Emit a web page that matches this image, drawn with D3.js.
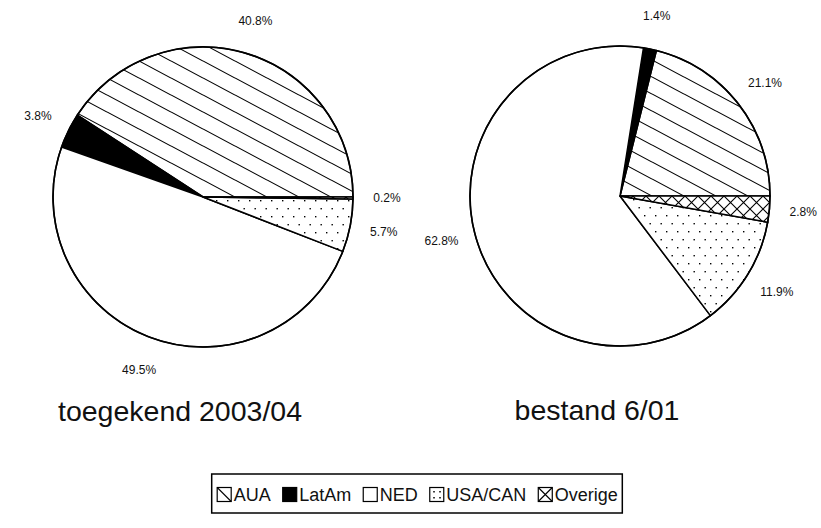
<!DOCTYPE html>
<html>
<head>
<meta charset="utf-8">
<script src="https://cdn.jsdelivr.net/npm/d3@7"></script>
<style>
  html, body { margin: 0; padding: 0; background: #fff; }
  svg { display: block; font-family: "Liberation Sans", Arial, Helvetica, sans-serif; }
</style>
</head>
<body>
<svg id="chart" width="821" height="528"></svg>
<script>
// ---- data ----
const categories = ["AUA", "LatAm", "NED", "USA/CAN", "Overige"];
const toegekendValues = [40.8, 3.8, 49.5, 5.7, 0.2];   // toegekend 2003/04
const bestandValues   = [21.1, 1.4, 62.8, 11.9, 2.8];  // bestand 6/01
const chartTitles = ["toegekend 2003/04", "bestand 6/01"];

// ---- setup ----
const svg = d3.select("#chart");
const defs = svg.append("defs");

// hatch "\" pattern (AUA)
const ph = defs.append("pattern").attr("id", "p-hatch").attr("patternUnits", "userSpaceOnUse")
  .attr("width", 32).attr("height", 17);
ph.append("rect").attr("width", 32).attr("height", 17).attr("fill", "#fff");
ph.append("path").attr("d", "M-32,-17L64,34M-32,0L32,34M0,-17L64,17")
  .attr("stroke", "#000").attr("stroke-width", 1.1).attr("fill", "none");

// dotted pattern (USA/CAN)
const pd = defs.append("pattern").attr("id", "p-dots").attr("patternUnits", "userSpaceOnUse")
  .attr("width", 11).attr("height", 16);
pd.append("rect").attr("width", 11).attr("height", 16).attr("fill", "#fff");
pd.append("rect").attr("x", 2).attr("y", 3).attr("width", 1.4).attr("height", 1.4).attr("fill", "#000");
pd.append("rect").attr("x", 7.5).attr("y", 11).attr("width", 1.4).attr("height", 1.4).attr("fill", "#000");

// crosshatch pattern (Overige)
const pc = defs.append("pattern").attr("id", "p-cross").attr("patternUnits", "userSpaceOnUse")
  .attr("width", 13).attr("height", 13);
pc.append("rect").attr("width", 13).attr("height", 13).attr("fill", "#fff");
pc.append("path").attr("d", "M0,0L13,13M13,0L0,13M-1,1L1,-1M12,14L14,12")
  .attr("stroke", "#000").attr("stroke-width", 1.1).attr("fill", "none");

const fills = d3.scaleOrdinal()
  .domain(categories)
  .range(["url(#p-hatch)", "#000", "#fff", "url(#p-dots)", "url(#p-cross)"]);

const pie = d3.pie().sort(null).value(d => d)
  .startAngle(Math.PI / 2).endAngle(Math.PI / 2 - 2 * Math.PI);

const R = 150;
const arc = d3.arc().innerRadius(0).outerRadius(R);
const labelArc = d3.arc().innerRadius(184).outerRadius(184);

const fmt = v => d3.format(".1f")(v) + "%";

function drawPie(values, cx, cy, title) {
  const g = svg.append("g").attr("transform", `translate(${cx},${cy})`);
  const arcs = pie(values).map((a, i) => Object.assign(a, { cat: categories[i] }));
  g.selectAll("path.slice").data(arcs).join("path")
    .attr("class", "slice")
    .attr("d", arc)
    .attr("fill", d => fills(d.cat))
    .attr("stroke", "#000")
    .attr("stroke-width", 1.5)
    .attr("stroke-linejoin", "round");
  g.append("circle").attr("r", R).attr("fill", "none").attr("stroke", "#000").attr("stroke-width", 1.6);
  g.selectAll("text.lbl").data(arcs).join("text")
    .attr("class", "lbl")
    .attr("transform", d => `translate(${labelArc.centroid(d)})`)
    .attr("text-anchor", "middle")
    .attr("dy", "0.35em")
    .attr("font-size", 12)
    .attr("fill", "#111")
    .text(d => fmt(d.data));
  g.append("text")
    .attr("x", -23).attr("y", 224)
    .attr("text-anchor", "middle")
    .attr("font-size", 28.5)
    .attr("fill", "#111")
    .text(title);
}

drawPie(toegekendValues, 203, 197, chartTitles[0]);
drawPie(bestandValues, 620, 196, chartTitles[1]);

// ---- legend ----
const lg = svg.append("g");
const items = lg.selectAll("g.item").data(categories).join("g").attr("class", "item");
const S = 14;
items.each(function (c, i) {
  const it = d3.select(this);
  const sw = it.append("g");
  sw.append("rect").attr("x", 0.5).attr("y", -S + 0.5).attr("width", S).attr("height", S)
    .attr("fill", c === "LatAm" ? "#000" : "#fff").attr("stroke", "#000").attr("stroke-width", 1.2);
  if (c === "AUA") {
    sw.append("line").attr("x1", 0.5).attr("y1", -S + 0.5).attr("x2", S + 0.5).attr("y2", 0.5)
      .attr("stroke", "#000").attr("stroke-width", 1.1);
  } else if (c === "USA/CAN") {
    [[4, -10], [10, -10], [4, -4], [10, -4]].forEach(p =>
      sw.append("rect").attr("x", p[0]).attr("y", p[1]).attr("width", 1.5).attr("height", 1.5).attr("fill", "#000"));
  } else if (c === "Overige") {
    sw.append("path").attr("d", `M0.5,${-S + 0.5}L${S + 0.5},0.5M${S + 0.5},${-S + 0.5}L0.5,0.5`)
      .attr("stroke", "#000").attr("stroke-width", 1.1);
  }
  it.append("text").attr("x", S + 3).attr("y", 0).attr("font-size", 18).attr("fill", "#111").text(c);
});
let x = 0;
const gap = 12;
items.each(function () {
  const w = this.getBBox().width;
  d3.select(this).attr("transform", `translate(${x},0)`);
  x += w + gap;
});
const totalW = x - gap;
const legendCx = 417, legendBase = 501;
lg.attr("transform", `translate(${legendCx - totalW / 2},${legendBase})`);
svg.insert("rect", "g")
  .attr("x", legendCx - totalW / 2 - 5).attr("y", 474)
  .attr("width", totalW + 10).attr("height", 39)
  .attr("fill", "#fff").attr("stroke", "#000").attr("stroke-width", 1.5);
</script>
</body>
</html>
